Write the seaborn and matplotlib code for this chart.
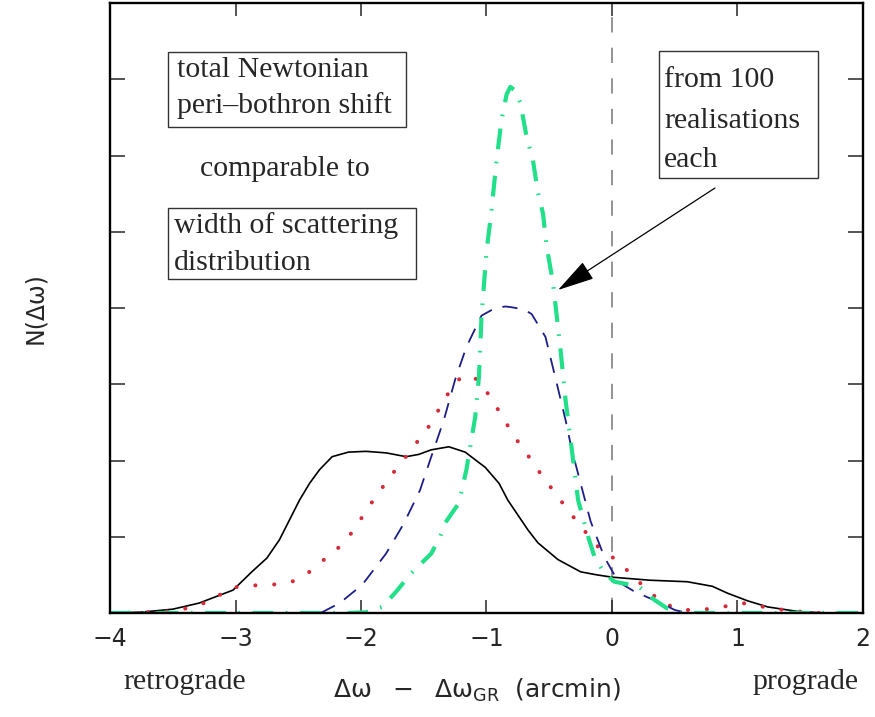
import matplotlib
matplotlib.use("Agg")
import matplotlib.pyplot as plt
import matplotlib.patches as mpatches
import seaborn as sns
import pandas as pd

# ---------------- data ----------------
black_x = [-4.0, -3.76, -3.5, -3.29, -3.02, -2.87, -2.75, -2.65, -2.57, -2.49,
           -2.41, -2.33, -2.23, -2.10, -1.96, -1.80, -1.64, -1.54, -1.44, -1.30,
           -1.17, -1.01, -0.90, -0.83, -0.67, -0.59, -0.43, -0.25, -0.12, 0.0,
           0.30, 0.60, 0.80, 0.92, 1.08, 1.24, 1.48, 1.70, 2.0]
black_y = [0.0, 0.01, 0.05, 0.13, 0.30, 0.54, 0.72, 0.96, 1.22, 1.48,
           1.70, 1.88, 2.05, 2.11, 2.12, 2.10, 2.05, 2.08, 2.14, 2.18,
           2.11, 1.91, 1.70, 1.48, 1.09, 0.92, 0.70, 0.54, 0.50, 0.47,
           0.43, 0.41, 0.35, 0.26, 0.16, 0.08, 0.02, 0.0, 0.0]

red_x = [-4.0, -3.6, -3.45, -3.34, -3.18, -3.05, -2.88, -2.71, -2.55, -2.41,
         -2.28, -2.17, -2.07, -1.99, -1.91, -1.78, -1.62, -1.54, -1.44, -1.37,
         -1.29, -1.20, -1.12, -1.05, -0.97, -0.89, -0.81, -0.73, -0.64, -0.55,
         -0.46, -0.37, -0.27, -0.18, -0.09, 0.06, 0.17, 0.29, 0.39, 0.55, 0.71,
         0.88, 1.04, 1.21, 1.37, 1.6, 2.0]
red_y = [0.0, 0.01, 0.04, 0.08, 0.17, 0.33, 0.36, 0.37, 0.41, 0.54,
         0.72, 0.87, 1.06, 1.26, 1.46, 1.76, 2.10, 2.27, 2.49, 2.70,
         2.92, 3.10, 3.11, 3.03, 2.83, 2.62, 2.40, 2.20, 2.00, 1.78,
         1.59, 1.39, 1.18, 1.00, 0.83, 0.67, 0.47, 0.30, 0.14, 0.04, 0.04,
         0.08, 0.13, 0.08, 0.04, 0.0, 0.0]

blue_x = [-4.0, -2.5, -2.31, -2.17, -1.99, -1.80, -1.66, -1.53, -1.44, -1.34,
          -1.25, -1.16, -1.04, -0.93, -0.85, -0.80, -0.70, -0.64, -0.53, -0.44,
          -0.37, -0.32, -0.25, -0.17, -0.06, 0.05, 0.18, 0.39, 0.50, 0.60, 2.0]
blue_y = [0.0, 0.0, 0.01, 0.13, 0.37, 0.78, 1.17, 1.61, 2.05, 2.53,
          3.06, 3.49, 3.90, 4.00, 4.02, 4.01, 3.98, 3.92, 3.62, 3.01,
          2.53, 2.14, 1.70, 1.20, 0.73, 0.41, 0.28, 0.13, 0.04, 0.0, 0.0]

green_x = [-4.0, -2.1, -1.96, -1.83, -1.72, -1.6, -1.44, -1.37, -1.33, -1.22,
           -1.16, -1.09, -1.06, -1.04, -1.0, -0.96, -0.92, -0.88, -0.84, -0.81,
           -0.77, -0.73, -0.68, -0.63, -0.59, -0.55, -0.52, -0.47, -0.41, -0.37,
           -0.32, -0.27, -0.19, -0.14, -0.06, 0.02, 0.21, 0.34, 0.44, 0.55, 2.0]
green_y = [0.0, 0.0, 0.01, 0.08, 0.28, 0.52, 0.78, 1.00, 1.18, 1.44,
           1.88, 2.57, 3.10, 3.88, 4.74, 5.28, 5.94, 6.47, 6.80, 6.90,
           6.85, 6.69, 6.24, 5.94, 5.51, 5.24, 4.80, 4.33, 3.45, 2.79,
           2.14, 1.48, 1.00, 0.74, 0.52, 0.41, 0.35, 0.17, 0.06, 0.0, 0.0]

x_ticks = [-4, -3, -2, -1, 0, 1, 2]
x_tick_labels = ["\u22124", "\u22123", "\u22122", "\u22121", "0", "1", "2"]
y_ticks = [0, 1, 2, 3, 4, 5, 6, 7, 8]
gr_line_x = 0.0

box1_lines = ["total Newtonian", "peri\u2013bothron shift"]
middle_text = "comparable to"
box2_lines = ["width of scattering", "distribution"]
box3_lines = ["from 100", "realisations", "each"]
left_note = "retrograde"
right_note = "prograde"
x_label = r"$\mathregular{\Delta\omega\ \ -\ \ \Delta\omega_{GR}}$  (arcmin)"
y_label = "N(\u0394\u03c9)"

# ---------------- style ----------------
sns.set_style("ticks")
plt.rcParams["font.family"] = ["DejaVu Sans"]
plt.rcParams["lines.scale_dashes"] = False
plt.rcParams["mathtext.fontset"] = "dejavusans"

W, H = 875, 717
fig = plt.figure(figsize=(W / 100, H / 100), dpi=100)
L, R, B, T = 110, 863, 613, 3
ax = fig.add_axes([L / W, (H - B) / H, (R - L) / W, (B - T) / H])

def fx(px):
    return (px - L) / (R - L)

def fy(py):
    return (B - py) / (B - T)

series = [
    (black_x, black_y, dict(color="black", lw=1.2, linestyle="-")),
    (red_x, red_y, dict(color="#d42a3a", lw=2.9, linestyle=(0, (0.1, 13.5)),
                        dash_capstyle="round")),
    (blue_x, blue_y, dict(color="#1e1e8a", lw=1.3, linestyle=(0, (11, 8)))),
    (green_x, green_y, dict(color="#22e08a", lw=3.0,
                            linestyle=(0, (15, 9, 1.2, 9)))),
]
for xs, ys, kw in series:
    df = pd.DataFrame({"x": xs, "y": ys})
    sns.lineplot(data=df, x="x", y="y", ax=ax, sort=False, estimator=None, **kw)

ax.axvline(gr_line_x, color="#8a8a8a", lw=1.3, linestyle=(0, (11, 11)), zorder=0.5)

ax.set_xlim(x_ticks[0], x_ticks[-1])
ax.set_ylim(y_ticks[0], y_ticks[-1])
ax.set_xticks(x_ticks)
ax.set_xticklabels(x_tick_labels)
ax.set_yticks(y_ticks)
ax.set_yticklabels([])
ax.tick_params(axis="x", which="major", direction="in", length=9.5, width=1.1,
               top=True, bottom=True, labelsize=17, pad=10)
ax.tick_params(axis="y", which="major", direction="in", length=11, width=1.1,
               left=True, right=True)
for sp in ax.spines.values():
    sp.set_linewidth(1.7)
    sp.set_color("black")
    sp.set_visible(True)

ax.set_xlabel(x_label, fontsize=18, ha="left", va="baseline")
ax.xaxis.set_label_coords(fx(333), fy(698))
ax.set_ylabel(y_label, fontsize=17)
ax.yaxis.set_label_coords(fx(47), 0.5)

serif = ["Liberation Serif", "DejaVu Serif"]
fs = 21.5

def boxed(lines, x_left, baselines, box):
    for s, by in zip(lines, baselines):
        ax.text(fx(x_left), fy(by), s, transform=ax.transAxes, ha="left",
                va="baseline", fontsize=fs, family=serif)
    x0, y0, x1, y1 = box
    ax.add_patch(mpatches.Rectangle((fx(x0), fy(y1)), fx(x1) - fx(x0),
                                    fy(y0) - fy(y1), transform=ax.transAxes,
                                    fill=False, edgecolor="#333333", lw=1.0))

boxed(box1_lines, 177, [77, 113], (168, 52, 406, 127))
ax.text(fx(285), fy(176), middle_text, transform=ax.transAxes, ha="center",
        va="baseline", fontsize=fs, family=serif)
boxed(box2_lines, 174, [233, 270], (168, 208, 416, 279))
boxed(box3_lines, 664, [87, 128, 167], (659, 51, 818, 178))

ax.annotate("", xy=(fx(558), fy(290)), xytext=(fx(715), fy(188)),
            xycoords="axes fraction", textcoords="axes fraction",
            arrowprops=dict(arrowstyle="-|>,head_length=1.3,head_width=0.35",
                            color="black", lw=0.9, mutation_scale=18,
                            shrinkA=0, shrinkB=0))

fig.text(185 / W, (H - 689) / H, left_note, ha="center", va="baseline",
         fontsize=fs, family=serif)
fig.text(805 / W, (H - 689) / H, right_note, ha="center", va="baseline",
         fontsize=fs, family=serif)

fig.savefig("out.png", dpi=100, facecolor="white")
